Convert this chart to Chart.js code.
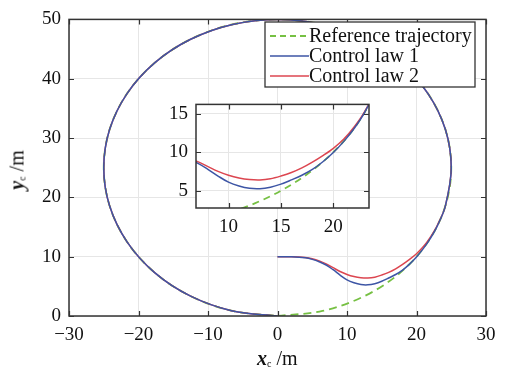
<!DOCTYPE html>
<html>
<head>
<meta charset="utf-8">
<script src="https://cdn.jsdelivr.net/npm/chart.js@4.4.0/dist/chart.umd.min.js"></script>
<style>
body{margin:0;background:#fff;}
#wrap{position:relative;width:511px;height:370px;font-family:"Liberation Serif",serif;}
#main{position:absolute;left:0;top:0;}
#inset{position:absolute;left:150px;top:85px;}
.lab{position:absolute;font-size:20px;color:#111;white-space:nowrap;line-height:1;}
.lab b{font-style:italic;}
.lab sub{font-size:10px;vertical-align:-2px;}
#xlab{left:257px;top:348px;}
#ylab{left:17px;top:170px;transform:translate(-50%,-50%) rotate(-90deg);}
</style>
</head>
<body>
<div id="wrap">
  <canvas id="main" width="511" height="370"></canvas>
  <canvas id="inset" width="230" height="150"></canvas>
  <div class="lab" id="xlab"><b>x</b><sub>c</sub> /m</div>
  <div class="lab" id="ylab"><b>y</b><sub>c</sub> /m</div>
</div>
<script>
// reference circle (starts at the origin, runs anticlockwise)
var circleX = [0, 6.47, 12.5, 17.68, 21.65, 24.15, 25, 24.15, 21.65, 17.68, 12.5, 6.47, 0, -6.47, -12.5, -17.68, -21.65, -24.15, -25, -24.15, -21.65, -17.68, -12.5, -6.47, 0];
var circleY = [0, 0.85, 3.35, 7.32, 12.5, 18.53, 25, 31.47, 37.5, 42.68, 46.65, 49.15, 50, 49.15, 46.65, 42.68, 37.5, 31.47, 25, 18.53, 12.5, 7.32, 3.35, 0.85, 0];
var joinIndex = 5; // both control laws follow the circle from this point on

// approach from (0,10) before joining the circle
var lawX  = [0, 2, 4, 5, 6, 7, 8, 9, 10, 11, 12, 13, 14, 15, 16, 17, 18, 19, 20, 21, 22, 23];
var law1Y = [10, 9.97, 9.8, 9.55, 9.15, 8.6, 7.8, 6.9, 6.1, 5.6, 5.3, 5.25, 5.45, 5.85, 6.4, 7.0, 7.75, 8.75, 9.95, 11.4, 13.1, 15.2];
var law2Y = [10, 9.98, 9.85, 9.65, 9.3, 8.8, 8.15, 7.5, 7.0, 6.65, 6.45, 6.4, 6.55, 6.9, 7.35, 7.95, 8.7, 9.55, 10.5, 11.7, 13.3, 15.3];

var seriesNames = ['Reference trajectory', 'Control law 1', 'Control law 2'];
var mainXTicks = [-30, -20, -10, 0, 10, 20, 30];
var mainYTicks = [0, 10, 20, 30, 40, 50];
var insetXTicks = [10, 15, 20];
var insetYTicks = [5, 10, 15];

var GREEN = '#76c043', BLUE = '#3d55a5', RED = '#dc4650';

function pts(xs, ys) {
  return xs.map(function (x, i) { return { x: x, y: ys[i] }; });
}
var refPts = pts(circleX, circleY);
var arc = refPts.slice(joinIndex);
var law1Pts = pts(lawX, law1Y).concat(arc);
var law2Pts = pts(lawX, law2Y).concat(arc);

function datasets(dash) {
  return [
    { label: seriesNames[0], data: refPts, borderColor: GREEN, borderDash: dash, borderWidth: 1.8, order: 3 },
    { label: seriesNames[1], data: law1Pts, borderColor: BLUE, borderWidth: 1.5, order: 1 },
    { label: seriesNames[2], data: law2Pts, borderColor: RED, borderWidth: 1.5, order: 2 }
  ];
}

function minus(v) { return String(v).replace('-', '\u2212'); }

var frame = {
  id: 'frame',
  beforeDraw: function (chart) {
    var a = chart.chartArea, ctx = chart.ctx;
    ctx.save();
    ctx.fillStyle = '#fff';
    ctx.fillRect(a.left, a.top, a.width, a.height);
    ctx.restore();
  },
  afterDraw: function (chart) {
    var a = chart.chartArea, ctx = chart.ctx, sx = chart.scales.x, sy = chart.scales.y;
    ctx.save();
    ctx.strokeStyle = '#333';
    ctx.lineWidth = 1.2;
    ctx.beginPath();
    sx.ticks.forEach(function (t) {
      var p = Math.round(sx.getPixelForValue(t.value)) + 0.5;
      ctx.moveTo(p, a.bottom); ctx.lineTo(p, a.bottom - 5);
      ctx.moveTo(p, a.top); ctx.lineTo(p, a.top + 5);
    });
    sy.ticks.forEach(function (t) {
      var p = Math.round(sy.getPixelForValue(t.value)) + 0.5;
      ctx.moveTo(a.left, p); ctx.lineTo(a.left + 5, p);
      ctx.moveTo(a.right, p); ctx.lineTo(a.right - 5, p);
    });
    ctx.stroke();
    ctx.lineWidth = 1.5;
    ctx.strokeRect(a.left, a.top, a.width, a.height);
    ctx.restore();
  }
};

var legendBox = {
  id: 'legendBox',
  afterDraw: function (chart) {
    var ctx = chart.ctx;
    var bx = 265, by = 22, bw = 210, bh = 65;
    var colors = [GREEN, BLUE, RED];
    ctx.save();
    ctx.fillStyle = '#fff';
    ctx.fillRect(bx, by, bw, bh);
    ctx.strokeStyle = '#333';
    ctx.lineWidth = 1.3;
    ctx.strokeRect(bx, by, bw, bh);
    ctx.font = '20px "Liberation Serif", serif';
    ctx.textBaseline = 'middle';
    ctx.fillStyle = '#111';
    seriesNames.forEach(function (name, i) {
      var yy = by + 14 + i * 20;
      ctx.beginPath();
      ctx.strokeStyle = colors[i];
      ctx.lineWidth = i === 0 ? 1.8 : 1.5;
      ctx.setLineDash(i === 0 ? [6, 4] : []);
      ctx.moveTo(270, yy); ctx.lineTo(309, yy);
      ctx.stroke();
      ctx.setLineDash([]);
      ctx.fillText(name, 309, yy + 1);
    });
    ctx.restore();
  }
};

function axis(min, max, ticks, size, fit) {
  return {
    type: 'linear', min: min, max: max,
    afterBuildTicks: function (s) { s.ticks = ticks.map(function (v) { return { value: v }; }); },
    afterFit: fit,
    grid: { color: '#e6e6e6', drawTicks: false },
    border: { display: false },
    ticks: { color: '#111', padding: 8, font: { family: '"Liberation Serif", serif', size: size }, callback: minus }
  };
}

function options(xs, ys, pad) {
  return {
    responsive: false, animation: false,
    layout: { padding: pad },
    elements: { point: { radius: 0 }, line: { tension: 0.34, fill: false } },
    plugins: { legend: { display: false }, tooltip: { enabled: false } },
    scales: { x: xs, y: ys }
  };
}

new Chart(document.getElementById('main'), {
  type: 'line',
  data: { datasets: datasets([8, 5]) },
  options: options(
    axis(-30, 30, mainXTicks, 19, function (s) { s.height = 54; }),
    axis(0, 50, mainYTicks, 19, function (s) { s.width = 69; }),
    { top: 14, right: 25, left: 0, bottom: 0 }
  ),
  plugins: [frame, legendBox]
});

new Chart(document.getElementById('inset'), {
  type: 'line',
  data: { datasets: datasets([7, 5]) },
  options: options(
    axis(6.9, 23.4, insetXTicks, 19, function (s) { s.height = 27; }),
    axis(2.75, 16.2, insetYTicks, 19, function (s) { s.width = 46; }),
    { top: 11, right: 11, left: 0, bottom: 0 }
  ),
  plugins: [frame]
});
</script>
</body>
</html>
